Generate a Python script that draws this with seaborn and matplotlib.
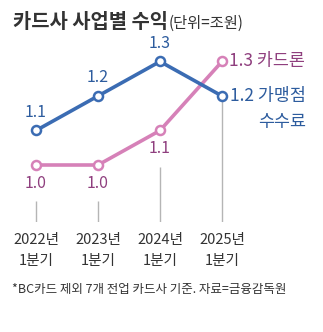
import matplotlib
matplotlib.use("Agg")
import matplotlib.pyplot as plt
import seaborn as sns
import pandas as pd

sns.set_theme(style="white")
plt.rcParams['font.family'] = ['Noto Sans CJK KR', 'DejaVu Sans']

periods = ["2022년\n1분기", "2023년\n1분기", "2024년\n1분기", "2025년\n1분기"]
fee_values = [1.1, 1.2, 1.3, 1.2]      # 가맹점 수수료
loan_values = [1.0, 1.0, 1.1, 1.3]     # 카드론
fee_name = ["가맹점", "수수료"]
loan_name = "카드론"
title = "카드사 사업별 수익"
unit = "(단위=조원)"
note = "*BC카드 제외 7개 전업 카드사 기준. 자료=금융감독원"

blue = "#3b6cb3"
pink = "#d681b8"
blue_txt = "#2d5c9e"
pink_txt = "#8f3f7e"

W, H = 323, 332
fig = plt.figure(figsize=(W / 100, H / 100), dpi=100)
ax = fig.add_axes([0, (H - 222) / H, 1, 222 / H])

x = list(range(len(periods)))
df = pd.DataFrame({"x": x * 2,
                   "value": fee_values + loan_values,
                   "series": ["fee"] * 4 + ["loan"] * 4})

# guide lines
ylo = 1.0 - (222 - 165) / 345
for i in x:
    lo = min(fee_values[i], loan_values[i])
    gap = 0.015 if i == len(x) - 1 else 0.105
    ax.vlines(i, ylo, lo - gap, color="#b5b5b5", lw=1, zorder=1)

for name, col in [("loan", pink), ("fee", blue)]:
    sub = df[df.series == name]
    sns.lineplot(data=sub, x="x", y="value", ax=ax, color=col, lw=2.6,
                 marker="o", markersize=6.5, markerfacecolor="white",
                 markeredgecolor=col, markeredgewidth=1.8, zorder=3)

ax.set_xlim(-36 / 62, (W - 36) / 62)
ax.set_ylim(ylo, 1.0 + 165 / 345)

# value labels
for i in x[:-1]:
    ax.annotate(f"{fee_values[i]:.1f}", (i, fee_values[i]), xytext=(0, 7),
                textcoords="offset points", ha="center", va="bottom",
                fontsize=11.5, color=blue_txt)
    ax.annotate(f"{loan_values[i]:.1f}", (i, loan_values[i]), xytext=(0, -7),
                textcoords="offset points", ha="center", va="top",
                fontsize=11.5, color=pink_txt)
i = x[-1]
ax.annotate(f"{loan_values[i]:.1f} {loan_name}", (i, loan_values[i]), xytext=(5, 0),
            textcoords="offset points", ha="left", va="center",
            fontsize=12.5, color=pink_txt)
t1 = ax.annotate(f"{fee_values[i]:.1f} {fee_name[0]}", (i, fee_values[i]), xytext=(6, 0),
                 textcoords="offset points", ha="left", va="center",
                 fontsize=12.5, color=blue_txt)

ax.set_xticks(x)
ax.set_xticklabels(periods, fontsize=10.5, color="#333333", linespacing=1.6)
ax.tick_params(axis="x", length=0, pad=8)
ax.set_yticks([])
ax.set_xlabel("")
ax.set_ylabel("")
for s in ax.spines.values():
    s.set_visible(False)
ax.patch.set_alpha(0)

tt = fig.text(13 / W, 1 - 22 / H, title, fontsize=14.3, fontweight="bold",
              color="#333333", ha="left", va="center")
fig.text(12 / W, 1 - 290 / H, note, fontsize=9, color="#333333",
         ha="left", va="center")

fig.canvas.draw()
bb = t1.get_window_extent()
fig.text(bb.x1 / W, (bb.y0 - 17) / H, fee_name[1], fontsize=12.5,
         color=blue_txt, ha="right", va="center")
tb = tt.get_window_extent()
fig.text((tb.x1 + 1) / W, 1 - 23 / H, unit, fontsize=11, color="#333333",
         ha="left", va="center")

fig.savefig("out.png", dpi=100)
